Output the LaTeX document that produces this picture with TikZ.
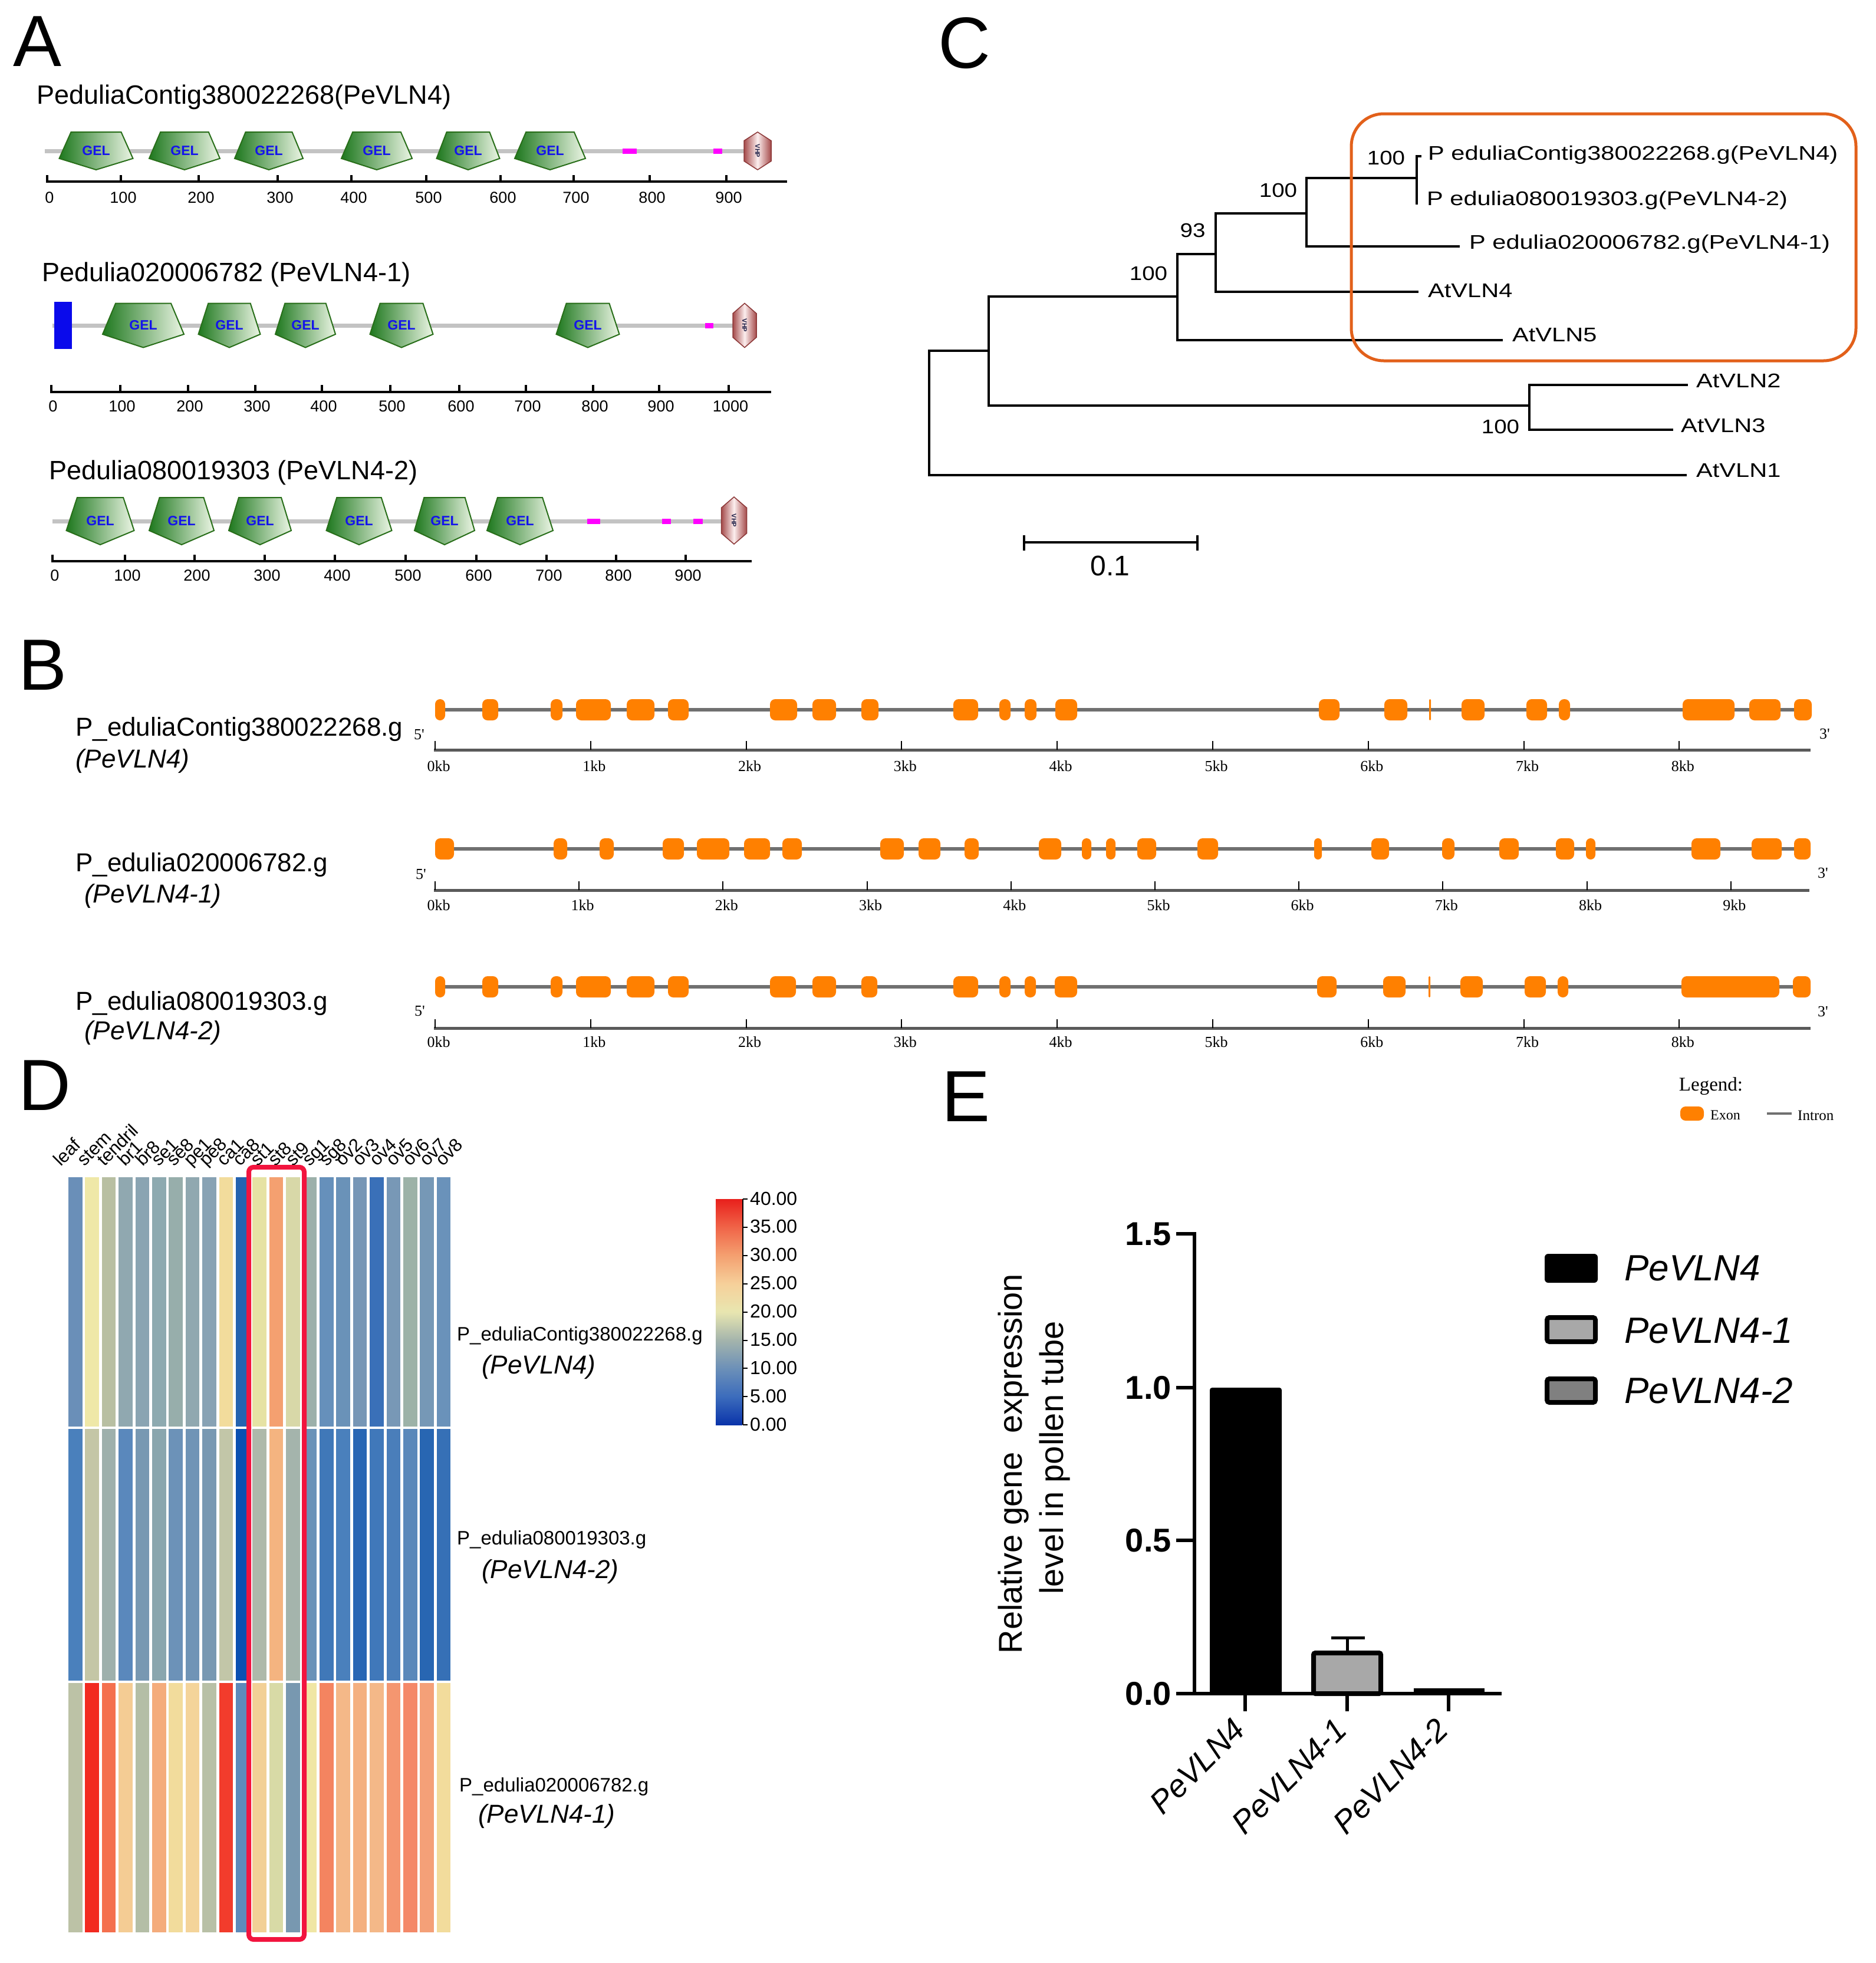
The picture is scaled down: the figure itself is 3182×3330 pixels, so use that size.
\documentclass[tikz,border=0pt]{standalone}
\usepackage{fontspec}
\setmainfont{Liberation Sans}
\newfontfamily\serifB{Liberation Serif}
\usetikzlibrary{calc}
\newcommand\fsz[1]{\fontsize{#1pt}{#1pt}\selectfont}
\definecolor{gelDark}{RGB}{30,120,30}
\definecolor{gelLight}{RGB}{235,245,228}
\definecolor{gelLine}{RGB}{40,110,25}
\definecolor{gelTxt}{RGB}{20,20,235}
\definecolor{vhpDark}{RGB}{165,75,75}
\definecolor{vhpLight}{RGB}{252,238,238}
\definecolor{vhpLine}{RGB}{140,55,55}
\definecolor{vhpTxt}{RGB}{30,30,70}
\definecolor{bbGray}{RGB}{195,195,195}
\definecolor{mag}{RGB}{255,0,255}
\definecolor{blueRect}{RGB}{10,10,235}
\definecolor{exonC}{RGB}{255,128,0}
\definecolor{intronC}{RGB}{112,112,112}
\definecolor{axGray}{RGB}{90,90,90}
\definecolor{treeBox}{RGB}{226,96,26}
\definecolor{redBox}{RGB}{242,20,62}
\definecolor{barG1}{RGB}{168,168,168}
\definecolor{barG2}{RGB}{128,128,128}
\definecolor{cb0}{HTML}{0A34AA}
\definecolor{cb5}{HTML}{3C6CBC}
\definecolor{cb10}{HTML}{6C90B8}
\definecolor{cb15}{HTML}{A4B4AC}
\definecolor{cb20}{HTML}{E8E6B0}
\definecolor{cb25}{HTML}{F6D09A}
\definecolor{cb30}{HTML}{F4A070}
\definecolor{cb35}{HTML}{F06448}
\definecolor{cb40}{HTML}{E8201C}
\pgfdeclareverticalshading{heatbar}{100bp}{color(0bp)=(cb0); color(25bp)=(cb0); color(31.25bp)=(cb5); color(37.5bp)=(cb10); color(43.75bp)=(cb15); color(50bp)=(cb20); color(56.25bp)=(cb25); color(62.5bp)=(cb30); color(68.75bp)=(cb35); color(75bp)=(cb40); color(100bp)=(cb40)}
\newcommand\gel[4]{%
  \path[draw=gelLine, line width=2pt, left color=gelDark, right color=gelLight]
    ({#1-0.34*#3},{#2-0.5*#4}) -- ({#1+0.34*#3},{#2-0.5*#4}) -- ({#1+0.5*#3},{#2+0.2*#4})
    -- ({#1},{#2+0.5*#4}) -- ({#1-0.5*#3},{#2+0.2*#4}) -- cycle;
  \node[font=\fsz{23}\bfseries, text=gelTxt, inner sep=0] at (#1,#2) {GEL};}
\newcommand\vhp[4]{%
  \path[draw=vhpLine, line width=1.5pt, left color=vhpDark, right color=vhpDark, middle color=vhpLight]
    ({#1},{#2-0.5*#4}) -- ({#1+0.5*#3},{#2-0.27*#4}) -- ({#1+0.5*#3},{#2+0.27*#4})
    -- ({#1},{#2+0.5*#4}) -- ({#1-0.5*#3},{#2+0.27*#4}) -- ({#1-0.5*#3},{#2-0.27*#4}) -- cycle;
  \node[font=\fsz{11}\bfseries, text=vhpTxt, rotate=-90, inner sep=0] at (#1,#2) {VHP};}
\newcommand\exon[3]{%
  \pgfmathsetmacro\exr{min(9,(#2-#1)/2)}%
  \fill[exonC, rounded corners=\exr pt] (#1,{#3-18}) rectangle (#2,{#3+18});}
\begin{document}
\begin{tikzpicture}[x=1pt,y=-1pt,
  panel/.style={font=\fsz{123}, inner sep=0, anchor=base west},
  ttl/.style={font=\fsz{45}, inner sep=0, anchor=base west},
  bb/.style={draw=bbGray, line width=7pt},
  axA/.style={draw=black, line width=4pt},
  tickA/.style={draw=black, line width=4pt},
  numA/.style={font=\fsz{27}, inner sep=0},
  gline/.style={draw=intronC, line width=6pt},
  axB/.style={draw=axGray, line width=5pt},
  tickB/.style={draw=black, line width=2pt},
  kb/.style={font=\serifB\fsz{26}, inner sep=0},
  tree/.style={draw=black, line width=4pt},
  leaf/.style={font=\fsz{33.5}, inner sep=0, anchor=west},
  boot/.style={font=\fsz{33.5}, inner sep=0},
  glab/.style={font=\fsz{44}, inner sep=0, anchor=base west},
  glabi/.style={font=\fsz{44}\itshape, inner sep=0, anchor=base west},
  hlab/.style={font=\fsz{33}, inner sep=0, anchor=west},
  hlabi/.style={font=\fsz{44}\itshape, inner sep=0, anchor=west},
  collab/.style={rotate=45, anchor=base west, font=\fsz{31}, inner sep=0},
  axE/.style={draw=black, line width=6pt},
]
\useasboundingbox (0,0) rectangle (3182,3330);
\fill[white] (0,0) rectangle (3182,3330);

% ---------------- Panel letters
\node[panel] (lA) at (22,112) {A};
\node[panel] (lB) at (31,1170) {B};
\node[panel] (lC) at (1591,115) {C};
\node[panel] (lD) at (31,1883) {D};
\node[panel] (lE) at (1597,1902) {E};

% ---------------- Panel A
\node[ttl] (tA1) at (62,176) {PeduliaContig380022268(PeVLN4)};
\node[ttl] (tA2) at (71,477) {Pedulia020006782 (PeVLN4-1)};
\node[ttl] (tA3) at (83,813) {Pedulia080019303 (PeVLN4-2)};

% row 1
\draw[bb] (76,256) -- (1268,256);
\fill[mag] (1056,251.5) rectangle (1080,260.5);
\fill[mag] (1210,251.5) rectangle (1225,260.5);
\foreach \cx/\w in {163/125,313/120,456/116,639/120,794/107,933/120}{\gel{\cx}{256}{\w}{64}}
\vhp{1285}{256}{46}{64}
\draw[axA] (78,308) -- (1335,308);
\foreach \x/\l in {80/0,205/100,337/200,471/300,596/400,723/500,849/600,973/700,1102/800,1232/900}{
  \draw[tickA] (\x,308) -- (\x,297);
  \node[numA] at (\x+4,335) {\l};}

% row 2
\draw[bb] (89,552) -- (1245,552);
\fill[blueRect] (92,512) rectangle (122,592);
\fill[mag] (1196,547.5) rectangle (1210,556.5);
\foreach \cx/\w in {243/138,389/105,518/102,681/107,997/107}{\gel{\cx}{552}{\w}{75}}
\vhp{1263}{552}{40}{75}
\draw[axA] (85,665) -- (1308,665);
\foreach \x/\l in {87/0,204/100,319/200,433/300,546/400,662/500,779/600,892/700,1006/800,1118/900,1236/1000}{
  \draw[tickA] (\x,665) -- (\x,653);
  \node[numA] at (\x+3,689) {\l};}

% row 3
\draw[bb] (89,884) -- (1224,884);
\fill[mag] (996,879.5) rectangle (1018,888.5);
\fill[mag] (1123,879.5) rectangle (1138,888.5);
\fill[mag] (1176,879.5) rectangle (1192,888.5);
\foreach \cx/\w in {170/115,308/110,441/106,609/111,754/102,882/112}{\gel{\cx}{884}{\w}{80}}
\vhp{1245}{883}{43}{80}
\draw[axA] (87,952) -- (1275,952);
\foreach \x/\l in {89/0,212/100,330/200,449/300,568/400,688/500,808/600,927/700,1045/800,1163/900}{
  \draw[tickA] (\x,952) -- (\x,941);
  \node[numA] at (\x+4,976) {\l};}

% ---------------- Panel C (tree)
\coordinate (R0) at (1576,595);
\coordinate (N1) at (1677,595);
\coordinate (N2) at (2594,688);
\coordinate (N3) at (1997,503);
\coordinate (N4) at (2062,431);
\coordinate (N5) at (2216,362);
\coordinate (N6) at (2403,302);
\coordinate (T1) at (2411,265);
\coordinate (T2) at (2405,345);
\coordinate (T3) at (2476,418);
\coordinate (T4) at (2406,495);
\coordinate (T5) at (2549,577);
\coordinate (T6) at (2863,653);
\coordinate (T7) at (2838,729);
\coordinate (T8) at (2861,806);
\draw[tree] (1576,593) -- (1576,808);
\draw[tree] (1574,595) -- (N1);
\draw[tree] (1576,806) -- (T8);
\draw[tree] (1677,501) -- (1677,690);
\draw[tree] (1675,688) -- (N2);
\draw[tree] (2594,651) -- (2594,731);
\draw[tree] (2592,653) -- (T6);
\draw[tree] (2592,729) -- (T7);
\draw[tree] (1675,503) -- (N3);
\draw[tree] (1997,429) -- (1997,579);
\draw[tree] (1995,577) -- (T5);
\draw[tree] (1995,431) -- (N4);
\draw[tree] (2062,360) -- (2062,497);
\draw[tree] (2060,495) -- (T4);
\draw[tree] (2060,362) -- (N5);
\draw[tree] (2216,300) -- (2216,420);
\draw[tree] (2214,418) -- (T3);
\draw[tree] (2214,302) -- (N6);
\draw[tree] (2403,263) -- (2403,347);
\draw[tree] (2401,265) -- (T1);
\draw[tree] (2401,345) -- (T2);
\node[leaf] (L1) at (2422,263) {\scalebox{1.24}[1]{P eduliaContig380022268.g(PeVLN4)}};
\node[leaf] (L2) at (2420,340) {\scalebox{1.24}[1]{P edulia080019303.g(PeVLN4-2)}};
\node[leaf] (L3) at (2492,414) {\scalebox{1.24}[1]{P edulia020006782.g(PeVLN4-1)}};
\node[leaf] (L4) at (2422,493) {\scalebox{1.24}[1]{AtVLN4}};
\node[leaf] (L5) at (2565,568) {\scalebox{1.24}[1]{AtVLN5}};
\node[leaf] (L6) at (2877,646) {\scalebox{1.24}[1]{AtVLN2}};
\node[leaf] (L7) at (2851,722) {\scalebox{1.24}[1]{AtVLN3}};
\node[leaf] (L8) at (2877,798) {\scalebox{1.24}[1]{AtVLN1}};
\node[boot] (b1) at (2351,268) {\scalebox{1.15}[1]{100}};
\node[boot] (b2) at (2168,323) {\scalebox{1.15}[1]{100}};
\node[boot] (b3) at (2023,391) {\scalebox{1.15}[1]{93}};
\node[boot] (b4) at (1948,464) {\scalebox{1.15}[1]{100}};
\node[boot] (b5) at (2545,724) {\scalebox{1.15}[1]{100}};
\draw[draw=treeBox, line width=5pt, rounded corners=55pt] (2292,193) rectangle (3148,612);
\coordinate (S1) at (1737,920);
\coordinate (S2) at (2031,920);
\draw[tree] (S1) -- (S2);
\draw[tree] (1737,908) -- (1737,934);
\draw[tree] (2031,908) -- (2031,934);
\node[font=\fsz{48}, inner sep=0] (sbl) at (1883,960) {0.1};

% ---------------- Panel B
\node[glab] (g1) at (128,1248) {P\_eduliaContig380022268.g};
\node[glabi] (g1i) at (128,1302) {(PeVLN4)};
\node[glab] (g2) at (128,1478) {P\_edulia020006782.g};
\node[glabi] (g2i) at (143,1531) {(PeVLN4-1)};
\node[glab] (g3) at (128,1713) {P\_edulia080019303.g};
\node[glabi] (g3i) at (143,1763) {(PeVLN4-2)};

% gene 1
\draw[gline] (738,1204) -- (3071,1204);
\foreach \a/\b in {738/755,818/845,934/954,977/1036,1063/1110,1133/1168,1306/1352,1378/1418,1461/1490,1617/1659,1695/1714,1738/1758,1790/1827,2237/2272,2348/2387,2424/2427,2479/2518,2589/2624,2644/2663,2854/2942,2967/3020,3043/3073}{\exon{\a}{\b}{1204}}
\draw[axB] (736,1272) -- (3071,1272);
\foreach \k in {0,...,8}{
  \draw[tickB] ({738+263.8*\k},1272) -- ({738+263.8*\k},1257);
  \node[kb] at ({744+263.8*\k},1300) {\k kb};}
\node[kb] (p51) at (711,1246) {5'};
\node[kb] (p31) at (3095,1245) {3'};

% gene 2
\draw[gline] (738,1440) -- (3071,1440);
\foreach \a/\b in {738/770,939/962,1017/1041,1124/1160,1182/1237,1262/1306,1327/1360,1493/1533,1558/1595,1636/1660,1762/1800,1835/1851,1876/1892,1929/1961,2031/2066,2229/2242,2326/2356,2446/2467,2543/2576,2639/2670,2690/2706,2869/2918,2971/3022,3043/3071}{\exon{\a}{\b}{1440}}
\draw[axB] (736,1510) -- (3069,1510);
\foreach \k in {0,...,9}{
  \draw[tickB] ({738+244.2*\k},1510) -- ({738+244.2*\k},1495);
  \node[kb] at ({744+244.2*\k},1536) {\k kb};}
\node[kb] (p52) at (714,1483) {5'};
\node[kb] (p32) at (3092,1481) {3'};

% gene 3
\draw[gline] (738,1674) -- (3071,1674);
\foreach \a/\b in {738/755,818/845,934/954,977/1036,1063/1110,1133/1168,1306/1350,1378/1418,1461/1488,1617/1659,1695/1714,1738/1757,1789/1827,2234/2267,2346/2384,2423/2426,2477/2515,2586/2622,2642/2660,2852/3018,3041/3071}{\exon{\a}{\b}{1674}}
\draw[axB] (736,1744) -- (3071,1744);
\foreach \k in {0,...,8}{
  \draw[tickB] ({738+263.8*\k},1744) -- ({738+263.8*\k},1729);
  \node[kb] at ({744+263.8*\k},1768) {\k kb};}
\node[kb] (p53) at (712,1715) {5'};
\node[kb] (p33) at (3092,1716) {3'};

% legend B
\node[font=\serifB\fsz{33}, inner sep=0] (legT) at (2902,1843) {Legend:};
\fill[exonC, rounded corners=9pt] (2850,1877) rectangle (2890,1901);
\node[font=\serifB\fsz{24}, inner sep=0, anchor=west] (legEx) at (2901,1892) {Exon};
\draw[draw=intronC, line width=4pt] (2997,1889) -- (3039,1889);
\node[font=\serifB\fsz{25}, inner sep=0, anchor=west] (legIn) at (3049,1892) {Intron};

% ---------------- Panel D (heatmap)
\foreach \hc [count=\i from 0] in {6A8FB8,EFE8A8,B8BFA2,90A8B0,8AA4B2,8EAAB0,97AEAB,90A8B0,88A2B4,F2DC9C,2563B0,E6E2A4,F4A070,D8D8A8,9CB0AA,6690BB,6A92B8,7696B6,3A70B8,7898B6,9CB2A8,7698B6,6A92BA}{
  \edef\tmpdef{\noexpand\definecolor{cc}{HTML}{\hc}}\tmpdef
  \fill[cc] ({116+28.4*\i},1997) rectangle ({139.5+28.4*\i},2420);}
\foreach \hc [count=\i from 0] in {4A80BC,C4C6A6,9EB0AC,5A88BC,7898B2,8AA6AE,6C92B8,7094B6,7898B2,C2C6A8,0A50B2,AEB9AA,F4B480,A4B4AC,6A92B8,4078B8,4A80BC,2866B4,4078BA,4A7EBA,5A88BA,2866B2,3670B6}{
  \edef\tmpdef{\noexpand\definecolor{cc}{HTML}{\hc}}\tmpdef
  \fill[cc] ({116+28.4*\i},2424) rectangle ({139.5+28.4*\i},2851);}
\foreach \hc [count=\i from 0] in {BCC2A6,F22A20,F4704E,F4CC94,B4BEA6,F4AC7C,F2DC9C,F4D49A,B8C0A6,F23C2C,5E8ABA,F2D096,D8DAA6,7898B0,F0E6A4,F48460,F4B888,F4B080,F4B888,F49670,F48868,F4A078,F2DC9C}{
  \edef\tmpdef{\noexpand\definecolor{cc}{HTML}{\hc}}\tmpdef
  \fill[cc] ({116+28.4*\i},2855) rectangle ({139.5+28.4*\i},3278);}
\foreach \t/\x in {leaf/98,stem/138,tendril/172,br1/207,br8/237,se1/264,se8/290,pe1/319,pe8/345,ca1/375,ca8/402,st1/432,st8/462,st9/492,sg1/520,sg8/549,ov2/576,ov3/605,ov4/634,ov5/662,ov6/690,ov7/719,ov8/746}{
  \node[collab] at (\x+5,1980) {\t};}
\draw[draw=redBox, line width=8pt, rounded corners=8pt] (422,1980) rectangle (516,3290);
\node[hlab] (h1) at (775,2266) {P\_eduliaContig380022268.g};
\node[hlabi] (h1i) at (817,2319) {(PeVLN4)};
\node[hlab] (h2) at (775,2612) {P\_edulia080019303.g};
\node[hlabi] (h2i) at (817,2666) {(PeVLN4-2)};
\node[hlab] (h3) at (779,3031) {P\_edulia020006782.g};
\node[hlabi] (h3i) at (811,3081) {(PeVLN4-1)};
% colour bar
\shade[shading=heatbar] (1214,2034) rectangle (1259,2417);
\draw[black, line width=2pt] (1260,2034) -- (1260,2417);
\foreach \v [count=\j from 0] in {40.00,35.00,30.00,25.00,20.00,15.00,10.00,5.00,0.00}{
  \draw[black, line width=2pt] (1260,{2034+47.9*\j}) -- (1268,{2034+47.9*\j});
  \node[font=\fsz{32}, inner sep=0, anchor=west] at (1272,{2033+47.9*\j}) {\v};}

% ---------------- Panel E (bar chart)
\fill[black, rounded corners=4pt] (2052,2354) rectangle (2174,2873);
\draw[black, line width=5pt] (2285,2802) -- (2285,2778);
\draw[black, line width=5pt] (2258,2778) -- (2315,2778);
\draw[black, line width=8pt, fill=barG1, rounded corners=3pt] (2228,2804) rectangle (2342,2873);
\draw[black, line width=6pt, fill=barG2] (2401,2867) rectangle (2515,2873);
\draw[axE] (2026,2090) -- (2026,2876);
\draw[axE] (2023,2873) -- (2547,2873);
\foreach \y/\l in {2093/1.5,2354/1.0,2613/0.5,2873/0.0}{
  \draw[axE] (1995,\y) -- (2026,\y);
  \node[font=\fsz{56}\bfseries, inner sep=0, anchor=east] at (1987,\y) {\l};}
\foreach \x/\l in {2112/PeVLN4,2285/PeVLN4-1,2457/PeVLN4-2}{
  \draw[axE] (\x,2873) -- (\x,2903);
  \node[font=\fsz{54}\itshape, inner sep=0, anchor=east, rotate=45] at (\x-10,2925) {\l};}
\node[font=\fsz{56}, inner sep=0, rotate=90] (yt1) at (1719,2483) {Relative gene~ expression};
\node[font=\fsz{56}, inner sep=0, rotate=90] (yt2) at (1789,2473) {level in pollen tube};
% legend E
\fill[black, rounded corners=6pt] (2620,2127) rectangle (2710,2176);
\draw[black, line width=8pt, fill=barG1, rounded corners=4pt] (2624,2235) rectangle (2706,2276);
\draw[black, line width=8pt, fill=barG2, rounded corners=4pt] (2624,2339) rectangle (2706,2379);
\node[font=\fsz{62}\itshape, inner sep=0, anchor=west] (e1) at (2755,2151) {PeVLN4};
\node[font=\fsz{62}\itshape, inner sep=0, anchor=west] (e2) at (2755,2257) {PeVLN4-1};
\node[font=\fsz{62}\itshape, inner sep=0, anchor=west] (e3) at (2755,2359) {PeVLN4-2};
\end{tikzpicture}
\end{document}
